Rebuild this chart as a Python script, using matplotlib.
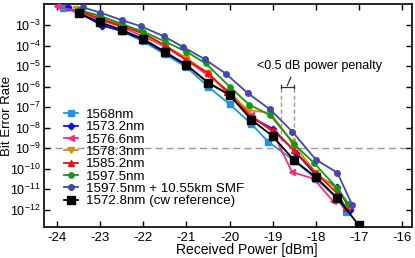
import numpy as np
import matplotlib
matplotlib.use("Agg")
import matplotlib.pyplot as plt
from matplotlib.ticker import FixedLocator, NullLocator

plt.rcParams["font.family"] = ["Liberation Sans", "DejaVu Sans"]
plt.rcParams["mathtext.default"] = "regular"

# ---- data (x in dBm, y as log10(BER)) ----
x_1568 = [-23.85, -23.5, -23, -22.5, -22, -21.5, -21, -20.5, -20, -19.5, -19.1, -18.5, -18, -17.5, -17.3]
l_1568 = [-2.19, -2.42, -2.92, -3.3, -3.8, -4.42, -5.05, -6.0, -6.85, -7.8, -8.69, -9.6, -10.48, -11.45, -12.1]

x_1573 = [-23.75, -23.5, -22.95, -22.5, -22, -21.5, -21, -20.5, -20, -19.5, -19, -18.45, -18, -17.5, -17.2]
l_1573 = [-2.14, -2.4, -3.03, -3.3, -3.72, -4.35, -4.95, -5.8, -6.4, -7.5, -8.04, -9.23, -10.3, -10.89, -12.0]

x_1576 = [-24.0, -23.5, -23, -22.5, -22, -21.5, -21, -20.5, -20, -19.5, -19, -18.55, -18.05, -17.6]
l_1576 = [-2.1, -2.35, -2.75, -3.1, -3.55, -4.05, -4.7, -5.45, -6.25, -7.4, -8.2, -10.16, -10.48, -11.57]

x_1578 = [-23.55, -23, -22.5, -22, -21.5, -21, -20.5, -20.05, -19.55, -19.05, -18.55, -18, -17.5, -17.2]
l_1578 = [-2.23, -2.65, -3.0, -3.45, -4.0, -4.6, -5.35, -6.3, -7.15, -7.28, -8.7, -10.2, -11.0, -11.8]

x_1585 = [-23.5, -23, -22.5, -22, -21.5, -21, -20.5, -20.05, -19.5, -19, -18.5, -18, -17.5, -17.3]
l_1585 = [-2.3, -2.7, -3.05, -3.4, -3.98, -4.71, -5.33, -6.25, -7.47, -8.12, -9.1, -10.2, -11.2, -11.9]

x_1597 = [-23.5, -23, -22.5, -22, -21.5, -21, -20.55, -20, -19.55, -19.05, -18.5, -18.05, -17.5, -17.25]
l_1597 = [-2.27, -2.55, -2.95, -3.33, -3.8, -4.3, -4.87, -6.0, -6.87, -7.4, -8.8, -9.7, -10.95, -11.7]

x_smf = [-23.4, -23, -22.5, -22.05, -21.53, -21.07, -20.57, -20.08, -19.57, -19.06, -18.54, -18.0, -17.5, -17.15]
l_smf = [-2.14, -2.40, -2.76, -3.07, -3.54, -4.08, -4.67, -5.38, -6.33, -7.11, -8.2, -9.55, -10.19, -11.78]

x_ref = [-23.5, -23, -22.5, -22, -21.5, -21, -20.5, -20, -19.5, -19, -18.5, -18, -17.5, -17]
l_ref = [-2.43, -2.87, -3.24, -3.68, -4.30, -4.95, -5.80, -6.41, -7.6, -8.41, -9.59, -10.4, -11.42, -12.75]

labels = ["1568nm", "1573.2nm", "1576.6nm", "1578.3nm", "1585.2nm", "1597.5nm",
          "1597.5nm + 10.55km SMF", "1572.8nm (cw reference)"]
xticks = [-24, -23, -22, -21, -20, -19, -18, -17, -16]
yexp = [-3, -4, -5, -6, -7, -8, -9, -10, -11, -12]

series = [(x_1568, l_1568), (x_1573, l_1573), (x_1576, l_1576), (x_1578, l_1578),
          (x_1585, l_1585), (x_1597, l_1597), (x_smf, l_smf), (x_ref, l_ref)]
colors = ["#1E96D8", "#0A14E6", "#FF2A7F", "#D4900A", "#F01010", "#109A10", "#4448A8", "#000000"]
markers = ["s", "D", "<", "v", "^", "o", "o", "s"]
msizes = [3.8, 3.4, 4.2, 4.2, 4.2, 3.8, 4.0, 5.2]

fig = plt.figure(figsize=(4.15, 2.58), dpi=100)
ax = fig.add_axes([44/415, 1-227/258, 368/415, 223/258])

for (xs, ls), c, m, ms, lab in zip(series, colors, markers, msizes, labels):
    ax.plot(xs, 10.0**np.array(ls), color=c, marker=m, markersize=ms, lw=1.3,
            label=lab, zorder=3 if c != "#000000" else 4)

ax.set_yscale("log")
ax.set_xlim(-24.3, -15.77)
ax.set_ylim(10**-12.83, 10**-1.98)

# threshold line and penalty box
ax.axhline(1e-9, color="#999999", ls=(0, (5, 3)), lw=1.0, zorder=1)
ax.plot([-18.8, -18.8], [1e-9, 1e-6], color="#999999", ls=(0, (3, 2)), lw=1.0, zorder=1)
ax.plot([-18.5, -18.5], [1e-9, 1e-6], color="#999999", ls=(0, (3, 2)), lw=1.0, zorder=1)
ax.plot([-18.8, -18.5], [1e-6, 1e-6], color="#333333", lw=0.9, zorder=2)
ax.plot([-18.8, -18.8], [10**-5.92, 10**-6.08], color="#333333", lw=0.9, zorder=2)
ax.plot([-18.5, -18.5], [10**-5.92, 10**-6.08], color="#333333", lw=0.9, zorder=2)
ax.plot([-18.58, -18.66], [10**-5.55, 10**-5.95], color="#333333", lw=0.9, zorder=2)
ax.text(-17.92, 10**-5.0, "<0.5 dB power penalty", fontsize=9, ha="center", va="center")

ax.xaxis.set_major_locator(FixedLocator(xticks))
ax.set_xticklabels([str(t) for t in xticks])
ax.yaxis.set_major_locator(FixedLocator([10.0**e for e in yexp]))
ax.set_yticklabels([r"$10^{%d}$" % e for e in yexp])
ax.yaxis.set_minor_locator(NullLocator())
ax.tick_params(direction="in", top=True, right=True, length=4, width=1, labelsize=9.5, pad=3.5)
ax.tick_params(axis="y", labelsize=9, pad=2.5)
for s in ax.spines.values():
    s.set_linewidth(1.2)

ax.set_xlabel("Received Power [dBm]", fontsize=10, labelpad=0)
ax.xaxis.set_label_coords(0.552, -0.073)
ax.set_ylabel("Bit Error Rate", fontsize=9.5)
ax.yaxis.set_label_coords(-0.083, 0.5)

ax.legend(loc="upper left", bbox_to_anchor=(0.055, 0.53), frameon=False, fontsize=9.6,
          handlelength=1.0, handletextpad=0.6, labelspacing=0.0, borderpad=0, borderaxespad=0)

fig.savefig("out.png", dpi=100)
